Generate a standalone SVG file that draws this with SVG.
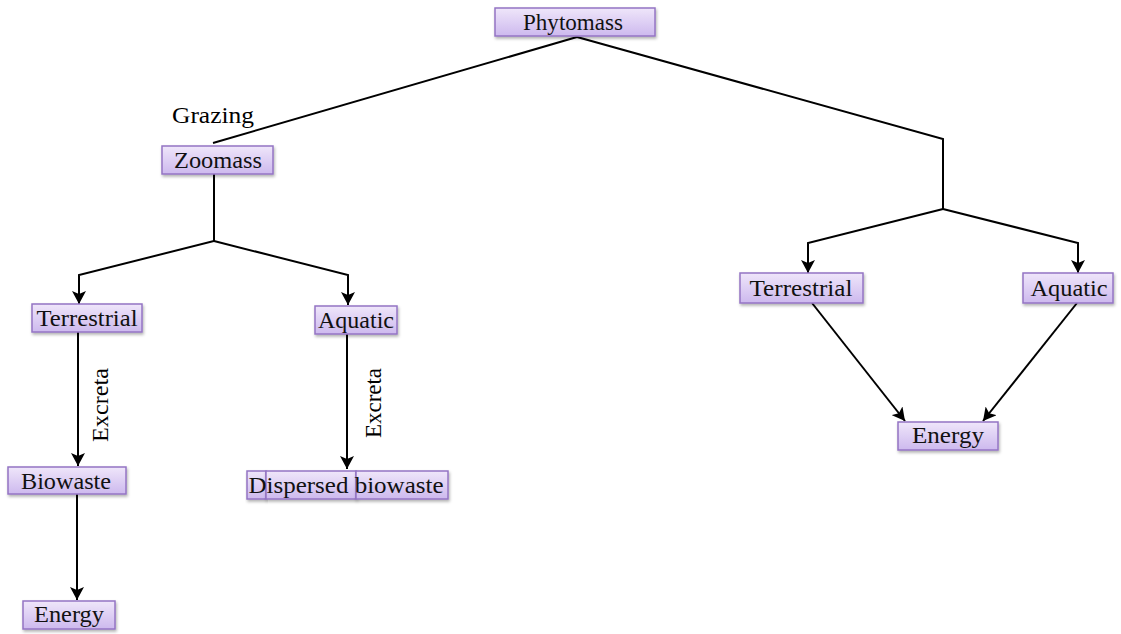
<svg xmlns="http://www.w3.org/2000/svg" width="1121" height="634" viewBox="0 0 1121 634">
<style>
.box{fill:url(#g);stroke:#9474c4;stroke-width:1.5;filter:url(#sh)}
.t{font-family:"Liberation Serif","Times New Roman",serif;font-size:24px;fill:#111;text-anchor:middle}
.lbl{font-family:"Liberation Serif","Times New Roman",serif;font-size:23px;fill:#000}
.c{fill:none;stroke:#000;stroke-width:2}
.a{marker-end:url(#ah)}
</style>
<defs>
<linearGradient id="g" x1="0" y1="0" x2="0" y2="1">
<stop offset="0" stop-color="#efe6fa"/>
<stop offset="1" stop-color="#cdb9ee"/>
</linearGradient>
<filter id="sh" x="-10%" y="-20%" width="120%" height="150%">
<feDropShadow dx="1" dy="2" stdDeviation="1.5" flood-color="#000" flood-opacity="0.3"/>
</filter>
<marker id="ah" markerUnits="userSpaceOnUse" markerWidth="14" markerHeight="14" refX="13" refY="7" orient="auto">
<path d="M0,0 L13,7 L0,14 L3,7 Z" fill="#000"/>
</marker>
</defs>
<g id="connectors">
<path class="c" d="M577,37 L213,143"/>
<path class="c" d="M577,37 L943,139 L943,209"/>
<path class="c a" d="M214,174 L214,241 L79,275 L79,304"/>
<path class="c a" d="M214,241 L348,275 L348,305"/>
<path class="c a" d="M943,209 L808,243 L808,273"/>
<path class="c a" d="M943,209 L1078,243 L1078,273"/>
<path class="c a" d="M78,332 L78,466"/>
<path class="c a" d="M347,334 L347,469"/>
<path class="c a" d="M77,494 L77,600"/>
<path class="c a" d="M812,303 L905,421"/>
<path class="c a" d="M1077,303 L983,421"/>
</g>
<g id="labels">
<text class="lbl" x="172" y="123" textLength="82" lengthAdjust="spacingAndGlyphs">Grazing</text>
<text class="lbl" text-anchor="middle" transform="translate(108,405) rotate(-90)" textLength="74" lengthAdjust="spacingAndGlyphs">Excreta</text>
<text class="lbl" text-anchor="middle" transform="translate(381,403) rotate(-90)" textLength="70" lengthAdjust="spacingAndGlyphs">Excreta</text>
</g>
<g id="phytomass"><rect class="box" x="495" y="8" width="160" height="28"/><text class="t" x="573" y="30" textLength="100" lengthAdjust="spacingAndGlyphs">Phytomass</text></g>
<g id="zoomass"><rect class="box" x="162" y="146" width="111" height="28"/><text class="t" x="218" y="168" textLength="88" lengthAdjust="spacingAndGlyphs">Zoomass</text></g>
<g id="terrestrial-left"><rect class="box" x="32" y="304" width="110" height="28"/><text class="t" x="87" y="326" textLength="101" lengthAdjust="spacingAndGlyphs">Terrestrial</text></g>
<g id="aquatic-left"><rect class="box" x="315" y="306" width="82" height="28"/><text class="t" x="356" y="328" textLength="76" lengthAdjust="spacingAndGlyphs">Aquatic</text></g>
<g id="biowaste"><rect class="box" x="8" y="467" width="118" height="27"/><text class="t" x="66" y="489" textLength="90" lengthAdjust="spacingAndGlyphs">Biowaste</text></g>
<g id="energy-left"><rect class="box" x="23" y="601" width="92" height="28"/><text class="t" x="69" y="622" textLength="70" lengthAdjust="spacingAndGlyphs">Energy</text></g>
<g id="dispersed-biowaste">
<rect class="box" x="247" y="471" width="19" height="28"/>
<rect class="box" x="266" y="471" width="90" height="28"/>
<rect class="box" x="356" y="471" width="92" height="28"/>
<text class="t" x="346" y="493" textLength="195" lengthAdjust="spacingAndGlyphs">Dispersed biowaste</text>
</g>
<g id="terrestrial-right"><rect class="box" x="740" y="273" width="123" height="30"/><text class="t" x="801" y="296" textLength="103" lengthAdjust="spacingAndGlyphs">Terrestrial</text></g>
<g id="aquatic-right"><rect class="box" x="1023" y="273" width="90" height="30"/><text class="t" x="1069" y="296" textLength="77" lengthAdjust="spacingAndGlyphs">Aquatic</text></g>
<g id="energy-right"><rect class="box" x="898" y="422" width="100" height="28"/><text class="t" x="948" y="443" textLength="72" lengthAdjust="spacingAndGlyphs">Energy</text></g>
</svg>
